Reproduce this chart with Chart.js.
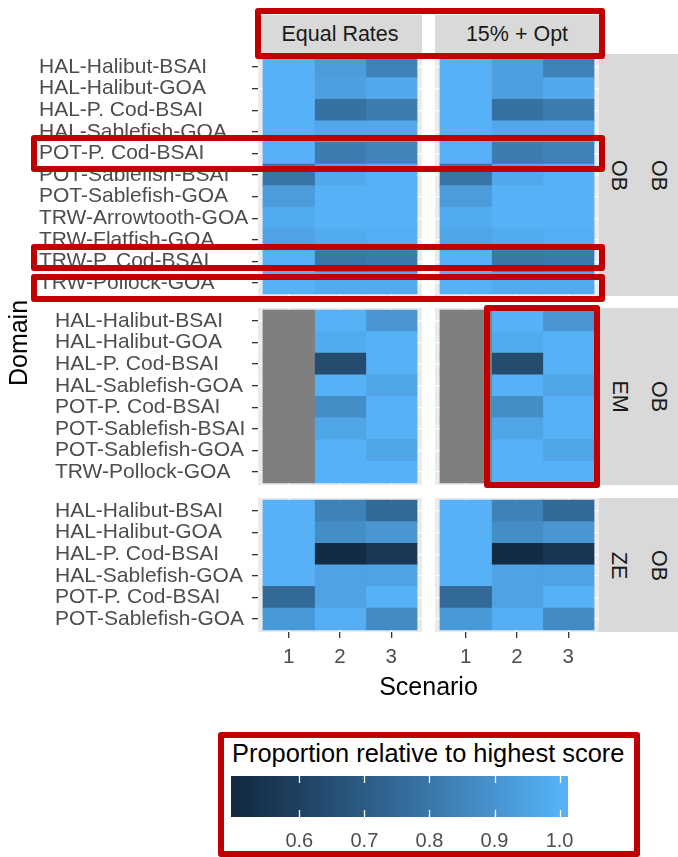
<!DOCTYPE html>
<html>
<head>
<meta charset="utf-8">
<script src="https://cdn.jsdelivr.net/npm/chart.js@4.4.1/dist/chart.umd.min.js"></script>
<style>
  body { margin: 0; background: #fff; width: 678px; height: 857px; overflow: hidden; position: relative;
         font-family: "Liberation Sans", Arial, sans-serif; }
  canvas { position: absolute; }
  .txt { position: absolute; display: flex; align-items: center; justify-content: center; white-space: nowrap; }
  .strip { background: #D9D9D9; color: #1A1A1A; font-size: 21.5px; }
  .box { position: absolute; border: 6.5px solid #C00000; border-radius: 3px; box-sizing: border-box; z-index: 5; }
</style>
</head>
<body>

<script>
// ---- data ----
const scenarios = [1, 2, 3];
const methods = ['Equal Rates', '15% + Opt'];
const gears = ['OB', 'EM', 'ZE'];
const outerStrip = 'OB';

const domainsOB = ['HAL-Halibut-BSAI', 'HAL-Halibut-GOA', 'HAL-P. Cod-BSAI', 'HAL-Sablefish-GOA',
  'POT-P. Cod-BSAI', 'POT-Sablefish-BSAI', 'POT-Sablefish-GOA', 'TRW-Arrowtooth-GOA',
  'TRW-Flatfish-GOA', 'TRW-P. Cod-BSAI', 'TRW-Pollock-GOA'];
const domainsEM = ['HAL-Halibut-BSAI', 'HAL-Halibut-GOA', 'HAL-P. Cod-BSAI', 'HAL-Sablefish-GOA',
  'POT-P. Cod-BSAI', 'POT-Sablefish-BSAI', 'POT-Sablefish-GOA', 'TRW-Pollock-GOA'];
const domainsZE = ['HAL-Halibut-BSAI', 'HAL-Halibut-GOA', 'HAL-P. Cod-BSAI', 'HAL-Sablefish-GOA',
  'POT-P. Cod-BSAI', 'POT-Sablefish-GOA'];

// one row per domain, columns = scenario 1, 2, 3 (null = no value, drawn grey)
const obEqual = [
  [1.00, 0.93, 0.84], [1.00, 0.94, 0.97], [1.00, 0.78, 0.82], [1.00, 0.97, 0.97],
  [1.00, 0.82, 0.85], [0.79, 0.97, 1.00], [0.93, 1.00, 1.00], [0.98, 1.00, 1.00],
  [0.95, 0.98, 0.99], [1.00, 0.80, 0.81], [1.00, 0.98, 0.98]];
const obOpt = [
  [1.00, 0.94, 0.84], [1.00, 0.94, 0.97], [1.00, 0.78, 0.82], [1.00, 0.97, 0.97],
  [1.00, 0.82, 0.84], [0.79, 0.97, 1.00], [0.93, 1.00, 1.00], [0.98, 1.00, 1.00],
  [0.96, 0.98, 0.99], [1.00, 0.80, 0.81], [1.00, 0.98, 0.98]];
const emEqual = [
  [null, 1.00, 0.91], [null, 0.98, 1.00], [null, 0.64, 1.00], [null, 1.00, 0.96],
  [null, 0.88, 1.00], [null, 0.96, 1.00], [null, 1.00, 0.96], [null, 1.00, 1.00]];
const emOpt = [
  [null, 1.00, 0.91], [null, 0.98, 1.00], [null, 0.64, 1.00], [null, 1.00, 0.96],
  [null, 0.88, 1.00], [null, 0.96, 1.00], [null, 1.00, 0.96], [null, 1.00, 1.00]];
const zeEqual = [
  [1.00, 0.84, 0.75], [1.00, 0.88, 0.91], [1.00, 0.51, 0.56], [1.00, 0.95, 0.95],
  [0.75, 0.95, 1.00], [0.92, 0.99, 0.87]];
const zeOpt = [
  [1.00, 0.84, 0.75], [1.00, 0.88, 0.91], [1.00, 0.508, 0.55], [1.00, 0.95, 0.95],
  [0.75, 0.95, 1.00], [0.92, 0.99, 0.87]];

const fillLimits = [0.508, 1.0];
const legendTicks = [0.6, 0.7, 0.8, 0.9, 1.0];
const legendTitle = 'Proportion relative to highest score';

// ---- colour scale (ggplot-like gradient, interpolated in Lab) ----
const LOW = '#132B43', HIGH = '#56B1F7', NA_COL = '#7F7F7F';

function hexRgb(h) { return [1, 3, 5].map(i => parseInt(h.substr(i, 2), 16)); }
function toLab(rgb) {
  const l = rgb.map(c => { c /= 255; return c <= 0.04045 ? c / 12.92 : Math.pow((c + 0.055) / 1.055, 2.4); });
  const X = (0.4124564 * l[0] + 0.3575761 * l[1] + 0.1804375 * l[2]) / 0.95047;
  const Y = 0.2126729 * l[0] + 0.7151522 * l[1] + 0.0721750 * l[2];
  const Z = (0.0193339 * l[0] + 0.1191920 * l[1] + 0.9503041 * l[2]) / 1.08883;
  const f = t => t > 0.008856 ? Math.cbrt(t) : 7.787 * t + 16 / 116;
  return [116 * f(Y) - 16, 500 * (f(X) - f(Y)), 200 * (f(Y) - f(Z))];
}
function fromLab(lab) {
  const fy = (lab[0] + 16) / 116, fx = fy + lab[1] / 500, fz = fy - lab[2] / 200;
  const inv = t => t > 0.206893 ? t * t * t : (t - 16 / 116) / 7.787;
  const X = inv(fx) * 0.95047, Y = inv(fy), Z = inv(fz) * 1.08883;
  const lin = [
    3.2404542 * X - 1.5371385 * Y - 0.4985314 * Z,
    -0.9692660 * X + 1.8760108 * Y + 0.0415560 * Z,
    0.0556434 * X - 0.2040259 * Y + 1.0572252 * Z];
  const c = lin.map(v => { v = v <= 0.0031308 ? 12.92 * v : 1.055 * Math.pow(v, 1 / 2.4) - 0.055;
    return Math.round(Math.min(1, Math.max(0, v)) * 255); });
  return 'rgb(' + c.join(',') + ')';
}
const labLow = toLab(hexRgb(LOW)), labHigh = toLab(hexRgb(HIGH));
function rampColour(t) {
  t = Math.min(1, Math.max(0, t));
  return fromLab(labLow.map((v, i) => v + (labHigh[i] - v) * t));
}
function fillColour(v) {
  if (v === null) return NA_COL;
  return rampColour((v - fillLimits[0]) / (fillLimits[1] - fillLimits[0]));
}

// ---- layout ----
Chart.defaults.font.family = '"Liberation Sans", Arial, sans-serif';
const colX = [[258, 422], [435, 599]];
const rowY = [[54, 296], [308, 485], [498, 632]];
const labelStart = [39, 55, 55];
const facetDomains = [domainsOB, domainsEM, domainsZE];
const facetValues = [[obEqual, obOpt], [emEqual, emOpt], [zeEqual, zeOpt]];

const panelBackground = {
  id: 'panelBackground',
  beforeDraw(chart) {
    const { ctx, chartArea: a } = chart;
    ctx.save();
    ctx.fillStyle = '#EBEBEB';
    ctx.fillRect(a.left, a.top, a.right - a.left, a.bottom - a.top);
    ctx.restore();
  }
};

function addCanvas(left, top, w, h) {
  const c = document.createElement('canvas');
  c.width = w; c.height = h;
  c.style.left = left + 'px'; c.style.top = top + 'px';
  document.body.appendChild(c);
  return c;
}

function makePanel(r, c) {
  const domains = facetDomains[r];
  const values = facetValues[r][c];
  const n = domains.length;
  const first = c === 0, bottom = r === 2;
  const xAxisH = bottom ? 44 : 0;
  const left = first ? 0 : colX[1][0];
  const w = colX[c][1] - left;
  const h = rowY[r][1] - rowY[r][0] + xAxisH;
  const padLeft = first ? labelStart[r] : 0;
  const yAxisW = first ? colX[0][0] - labelStart[r] : 0;

  const datasets = scenarios.map((s, j) => ({
    data: domains.map((d, i) => ({ x: [s - 0.5, s + 0.5], y: i + 1 })),
    backgroundColor: values.map(row => fillColour(row[j])),
    borderWidth: 0,
    inflateAmount: 0.5,
    grouped: false,
    barPercentage: 1,
    categoryPercentage: 1
  }));

  new Chart(addCanvas(left, rowY[r][0], w, h), {
    type: 'bar',
    data: { datasets },
    options: {
      indexAxis: 'y',
      responsive: false,
      animation: false,
      layout: { autoPadding: false, padding: { left: padLeft, right: 0, top: 0, bottom: 0 } },
      plugins: { legend: { display: false }, tooltip: { enabled: false } },
      scales: {
        x: {
          type: 'linear', min: 0.4, max: 3.6, bounds: 'data', offset: false,
          afterBuildTicks: sc => { sc.ticks = scenarios.map(v => ({ value: v })); },
          afterFit: sc => { sc.height = xAxisH; sc.paddingLeft = 0; sc.paddingRight = 0; },
          border: { display: false },
          grid: { offset: false, color: '#FFFFFF', lineWidth: 1.3, drawTicks: bottom, tickLength: 6,
                  tickColor: '#333333', tickWidth: 1.3 },
          ticks: { display: bottom, padding: 7, color: '#4D4D4D', font: { size: 20.5 },
                   maxRotation: 0, autoSkip: false, callback: v => String(v) }
        },
        y: {
          type: 'linear', reverse: true, min: 0.4, max: n + 0.6, bounds: 'data', offset: false,
          afterBuildTicks: sc => { sc.ticks = domains.map((d, i) => ({ value: i + 1 })); },
          afterFit: sc => { sc.width = yAxisW; sc.paddingTop = 0; sc.paddingBottom = 0; },
          border: { display: false },
          grid: { offset: false, color: '#FFFFFF', lineWidth: 1.3, drawTicks: first, tickLength: 6,
                  tickColor: '#333333', tickWidth: 1.3 },
          ticks: { display: first, autoSkip: false, crossAlign: 'far', padding: 4,
                   color: '#4D4D4D', font: { size: 21 }, callback: v => domains[v - 1] }
        }
      }
    },
    plugins: [panelBackground]
  });
}

for (let r = 0; r < 3; r++) for (let c = 0; c < 2; c++) makePanel(r, c);

// ---- colour bar legend ----
const span = (fillLimits[1] - fillLimits[0]) / 19 * 0.5;
const barRange = [fillLimits[0] - span, fillLimits[1] + span];
const legendTickMarks = {
  id: 'legendTickMarks',
  afterDatasetsDraw(chart) {
    const { ctx, chartArea: a, scales: { x } } = chart;
    ctx.save();
    ctx.strokeStyle = '#FFFFFF';
    ctx.lineWidth = 1.3;
    legendTicks.forEach(v => {
      const px = Math.round(x.getPixelForValue(v)) + 0.5;
      ctx.beginPath();
      ctx.moveTo(px, a.top); ctx.lineTo(px, a.top + 7);
      ctx.moveTo(px, a.bottom - 7); ctx.lineTo(px, a.bottom);
      ctx.stroke();
    });
    ctx.restore();
  }
};

new Chart(addCanvas(221, 770, 360, 87), {
  type: 'bar',
  data: {
    labels: ['bar'],
    datasets: [{
      data: [barRange],
      borderWidth: 0,
      barPercentage: 1,
      categoryPercentage: 1,
      backgroundColor: ctx => {
        const chart = ctx.chart;
        if (!chart.chartArea) return HIGH;
        const x = chart.scales.x;
        const g = chart.ctx.createLinearGradient(x.getPixelForValue(fillLimits[0]), 0,
                                                 x.getPixelForValue(fillLimits[1]), 0);
        for (let k = 0; k <= 10; k++) g.addColorStop(k / 10, rampColour(k / 10));
        return g;
      }
    }]
  },
  options: {
    indexAxis: 'y',
    responsive: false,
    animation: false,
    layout: { autoPadding: false, padding: { left: 10, right: 13, top: 6, bottom: 0 } },
    plugins: { legend: { display: false }, tooltip: { enabled: false } },
    scales: {
      x: {
        type: 'linear', min: barRange[0], max: barRange[1], bounds: 'data', offset: false,
        afterBuildTicks: sc => { sc.ticks = legendTicks.map(v => ({ value: v })); },
        afterFit: sc => { sc.height = 40; sc.paddingLeft = 0; sc.paddingRight = 0; },
        border: { display: false },
        grid: { display: false, drawTicks: false },
        ticks: { padding: 12, color: '#4D4D4D', font: { size: 20 }, maxRotation: 0,
                 autoSkip: false, callback: v => v.toFixed(1) }
      },
      y: { display: false }
    }
  },
  plugins: [legendTickMarks]
});

// ---- strips, titles and highlight boxes ----
function addDiv(cls, text, left, top, w, h, extra) {
  const d = document.createElement('div');
  d.className = cls;
  d.textContent = text;
  Object.assign(d.style, { left: left + 'px', top: top + 'px', width: w + 'px', height: h + 'px' }, extra || {});
  document.body.appendChild(d);
  return d;
}
methods.forEach((m, c) => addDiv('txt strip', m, colX[c][0], 15, colX[c][1] - colX[c][0], rowY[0][0] - 15));
gears.forEach((g, r) => {
  const top = rowY[r][0], h = rowY[r][1] - rowY[r][0];
  [[599, 39.5, g], [638.5, 39.5, outerStrip]].forEach(([x, w, t]) => {
    const s = addDiv('txt strip', '', x, top, w, h);
    const sp = document.createElement('span');
    sp.textContent = t;
    sp.style.transform = 'rotate(90deg)';
    sp.style.display = 'inline-block';
    s.appendChild(sp);
  });
});
addDiv('txt', 'Domain', 18 - 60, 343 - 16, 120, 32, { fontSize: '25px', color: '#000', transform: 'rotate(-90deg)' });
addDiv('txt', 'Scenario', 428.5 - 80, 670, 160, 32, { fontSize: '25px', color: '#000' });
addDiv('txt', legendTitle, 232, 738, 410, 30, { fontSize: '25.4px', color: '#000', justifyContent: 'flex-start' });

[[255, 8, 605, 59], [31, 134.5, 605, 171.5], [31, 243.5, 605, 270.5], [31, 273.5, 605, 301.5],
 [483.5, 305, 600, 487.5], [218, 732, 640, 857]].forEach(([x0, y0, x1, y1]) =>
  addDiv('box', '', x0, y0, x1 - x0, y1 - y0));
</script>
</body>
</html>
